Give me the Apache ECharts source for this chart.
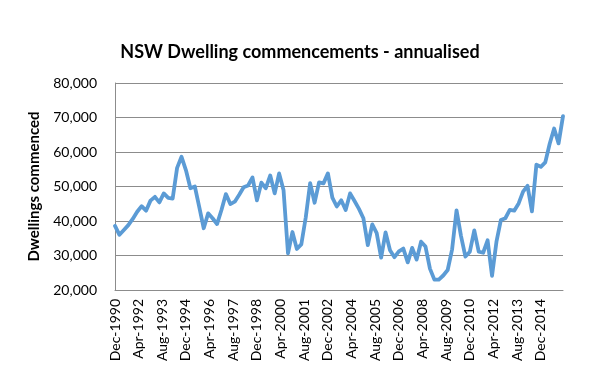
<!DOCTYPE html>
<html>
<head>
<meta charset="utf-8">
<script src="https://cdn.jsdelivr.net/npm/echarts@6/dist/echarts.min.js"></script>
<style>
html,body{margin:0;padding:0;background:#fff;}
#chart{width:600px;height:381px;}
</style>
</head>
<body>
<div id="chart"></div>
<script>
// Quarterly series, first quarter = Dec-1990, last = Mar-2016
const startLabel = 'Dec-1990';
const monthsPerPoint = 3;
const values = [
  38600, 36000, 37400, 38800, 40600, 42700, 44300, 43000, 45900, 47000,
  45400, 48000, 46700, 46500, 55400, 58600, 54700, 49500, 50000, 44000,
  37900, 42200, 40800, 39100, 43200, 47800, 44900, 45600, 47600, 49800,
  50300, 52600, 46000, 51100, 49500, 53200, 48000, 53800, 48900, 30600,
  36800, 31900, 33200, 41000, 51000, 45300, 51200, 50900, 53800, 46800,
  44200, 46000, 43200, 48000, 45800, 43500, 40800, 33000, 39000, 36500,
  29400, 36700, 31500, 29500, 31200, 32000, 28000, 32200, 28800, 34000,
  32600, 26200, 23000, 23000, 24200, 25800, 31800, 43100, 35700, 29700,
  31100, 37300, 31100, 30800, 34400, 24100, 34000, 40300, 40800, 43200,
  43000, 45100, 48500, 50200, 42800, 56300, 55700, 57000, 62400, 66800,
  62500, 70400
];
// x-axis tick labels, one every 16 months from Dec-1990
const tickLabels = [
  'Dec-1990','Apr-1992','Aug-1993','Dec-1994','Apr-1996','Aug-1997','Dec-1998',
  'Apr-2000','Aug-2001','Dec-2002','Apr-2004','Aug-2005','Dec-2006','Apr-2008',
  'Aug-2009','Dec-2010','Apr-2012','Aug-2013','Dec-2014'
];
const tickStepMonths = 16;
const yTicks = [20000, 30000, 40000, 50000, 60000, 70000, 80000];
const title = 'NSW Dwelling commencements - annualised';
const yName = 'Dwellings commenced';

const seriesData = values.map((v, i) => [i * monthsPerPoint, v]);
const lastMonth = (values.length - 1) * monthsPerPoint;

const chart = echarts.init(document.getElementById('chart'), null, {renderer: 'canvas'});
const font = 'Lato, "Liberation Sans", sans-serif';
chart.setOption({
  animation: false,
  backgroundColor: '#ffffff',
  title: {
    text: title,
    left: 295, top: 38, textAlign: 'center',
    textStyle: {fontFamily: font, fontSize: 18, fontWeight: 'bold', color: '#000'}
  },
  grid: {left: 115, right: 37, top: 83, bottom: 91, containLabel: false},
  xAxis: {
    type: 'value',
    min: 0, max: lastMonth, interval: tickStepMonths,
    axisLine: {show: true, lineStyle: {color: '#8c8c8c', width: 1}},
    axisTick: {show: false},
    splitLine: {show: false},
    axisLabel: {
      rotate: 90, margin: 9, color: '#000',
      fontFamily: font, fontSize: 14,
      showMaxLabel: false,
      formatter: v => (v % tickStepMonths === 0 && tickLabels[v / tickStepMonths]) ? tickLabels[v / tickStepMonths] : ''
    }
  },
  yAxis: {
    type: 'value',
    min: yTicks[0], max: yTicks[yTicks.length - 1], interval: yTicks[1] - yTicks[0],
    name: yName, nameLocation: 'middle', nameGap: 73, nameRotate: 90,
    nameTextStyle: {fontFamily: font, fontSize: 15, fontWeight: 'bold', color: '#000'},
    axisLine: {show: true, lineStyle: {color: '#8c8c8c', width: 1}},
    axisTick: {show: false},
    splitLine: {show: true, lineStyle: {color: '#8c8c8c', width: 1}},
    axisLabel: {
      margin: 18, color: '#000', fontFamily: font, fontSize: 14,
      formatter: v => v.toLocaleString('en-US')
    }
  },
  series: [{
    type: 'line',
    data: seriesData,
    showSymbol: false,
    symbol: 'none',
    lineStyle: {color: '#5B9BD5', width: 3.8, join: 'round', cap: 'round'},
    itemStyle: {color: '#5B9BD5'}
  }]
});
</script>
</body>
</html>
